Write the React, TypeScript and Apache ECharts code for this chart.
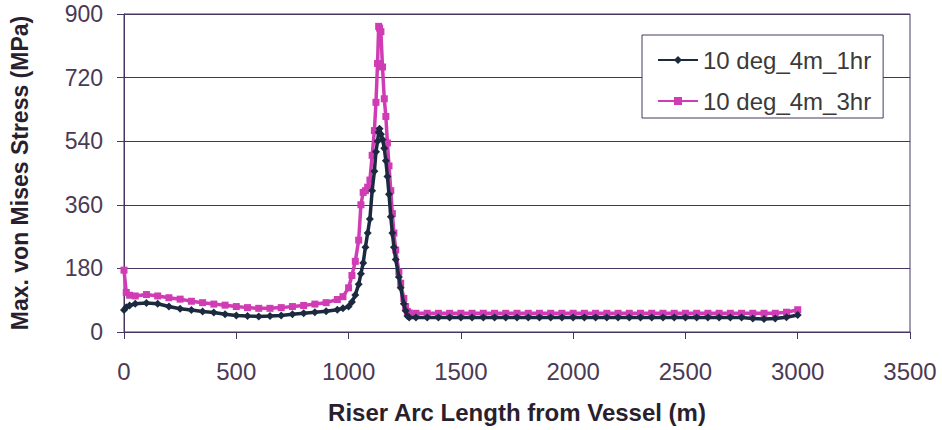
import React, { useEffect, useRef } from "react";
import * as echarts from "echarts";

const distances = [
  0, 10, 25, 50, 100, 150, 200, 250, 300, 350, 400, 450, 500, 550, 600, 650, 700, 750, 800, 850, 900, 950, 975,
  1000, 1015, 1030, 1045, 1055, 1065, 1075, 1085, 1095, 1105, 1115, 1122, 1129, 1134, 1138, 1144, 1151, 1159,
  1166, 1173, 1180, 1188, 1195, 1202, 1210, 1224, 1232, 1246, 1254, 1262, 1270,
  1300, 1350, 1400, 1450, 1500, 1550, 1600, 1650, 1700, 1750, 1800, 1850, 1900, 1950, 2000, 2050, 2100, 2150,
  2200, 2250, 2300, 2350, 2400, 2450, 2500, 2550, 2600, 2650, 2700, 2750, 2800, 2850, 2900, 2950, 3000,
];

const stress1hr = [
  62, 70, 75, 80, 82, 80, 72, 66, 62, 58, 55, 50, 47, 45, 44, 45, 47, 50, 53, 56, 59, 63, 67,
  72, 85, 105, 135, 165, 195, 240, 280, 320, 400, 455, 510, 540, 565, 575, 560, 545, 520,
  485, 440, 390, 326, 280, 240, 205, 156, 125, 80, 60, 45, 41,
  41, 41, 41, 41, 41, 41, 41, 41, 41, 41, 41, 41, 41, 41, 41, 41, 41, 41,
  41, 41, 41, 41, 41, 41, 41, 41, 41, 41, 41, 41, 38, 37, 38, 42, 48,
];

const stress3hr = [
  175, 112, 104, 102, 106, 102, 97, 93, 87, 83, 79, 76, 72, 69, 67, 67, 69, 72, 75, 79, 83, 92, 100,
  125, 160, 200, 260, 360, 395, 400, 410, 430, 500, 570, 650, 760, 865, 860, 850, 750, 660,
  610, 535, 470, 400, 335, 280, 232, 170, 138, 95, 72, 58, 54,
  53, 53, 53, 53, 53, 53, 53, 53, 53, 53, 53, 53, 53, 53, 53, 53, 53, 53,
  53, 53, 53, 53, 53, 53, 53, 53, 53, 53, 53, 53, 53, 53, 53, 56, 63,
];

const seriesNames = ["10 deg_4m_1hr", "10 deg_4m_3hr"];
const xTicks = { min: 0, max: 3500, interval: 500 };
const yTicks = { min: 0, max: 900, interval: 180 };

export default function App() {
  const ref = useRef<HTMLDivElement>(null);
  useEffect(() => {
    document.body.style.margin = "0";
    if (!ref.current) return;
    const chart = echarts.init(ref.current, null, { renderer: "svg" });
    const axisColor = "#463760";
    const labelColor = "#4a3a55";
    const font = "'Liberation Sans', Arial, sans-serif";
    chart.setOption({
      animation: false,
      backgroundColor: "#ffffff",
      grid: {
        left: 112,
        right: 32,
        top: 14,
        bottom: 98,
        show: true,
        borderColor: axisColor,
        borderWidth: 1,
      },
      legend: {
        orient: "vertical",
        left: 642,
        top: 35,
        padding: [13, 12, 5, 15],
        itemGap: 17,
        itemWidth: 40,
        itemHeight: 10,
        backgroundColor: "#ffffff",
        borderColor: axisColor,
        borderWidth: 1,
        borderRadius: 0,
        textStyle: { fontFamily: font, fontSize: 24, lineHeight: 24, color: "#3a3a3a" },
        data: seriesNames,
      },
      xAxis: {
        type: "value",
        min: xTicks.min,
        max: xTicks.max,
        interval: xTicks.interval,
        name: "Riser Arc Length from Vessel (m)",
        nameLocation: "middle",
        nameGap: 68,
        nameTextStyle: { fontFamily: font, fontSize: 24, fontWeight: "bold", color: "#2a1f2e" },
        axisLine: { show: true, lineStyle: { color: axisColor, width: 1 } },
        axisTick: { show: true, length: 7, lineStyle: { color: axisColor } },
        axisLabel: {
          fontFamily: font,
          fontSize: 24,
          color: labelColor,
          margin: 27,
          formatter: (v: number) => String(v),
        },
        splitLine: { show: false },
      },
      yAxis: {
        type: "value",
        min: yTicks.min,
        max: yTicks.max,
        interval: yTicks.interval,
        name: "Max. von Mises Stress (MPa)",
        nameLocation: "middle",
        nameGap: 93,
        nameTextStyle: { fontFamily: font, fontSize: 23, fontWeight: "bold", color: "#2a1f2e" },
        axisLine: { show: true, lineStyle: { color: axisColor, width: 1 } },
        axisTick: { show: true, length: 7, lineStyle: { color: axisColor } },
        axisLabel: {
          fontFamily: font,
          fontSize: 23,
          color: labelColor,
          margin: 21,
          formatter: (v: number) => String(v),
        },
        splitLine: { show: true, lineStyle: { color: axisColor, width: 1 } },
      },
      series: [
        {
          name: seriesNames[0],
          type: "line",
          data: distances.map((d, i) => [d, stress1hr[i]]),
          symbol: "diamond",
          symbolSize: 8,
          showAllSymbol: true,
          lineStyle: { color: "#1c2a40", width: 3.5 },
          itemStyle: { color: "#1c2a40" },
          z: 3,
        },
        {
          name: seriesNames[1],
          type: "line",
          data: distances.map((d, i) => [d, stress3hr[i]]),
          symbol: "rect",
          symbolSize: 7,
          showAllSymbol: true,
          lineStyle: { color: "#d03cb4", width: 3.5 },
          itemStyle: { color: "#d03cb4" },
          z: 2,
        },
      ],
    });
    return () => chart.dispose();
  }, []);
  return <div ref={ref} style={{ width: 942, height: 430 }} />;
}
